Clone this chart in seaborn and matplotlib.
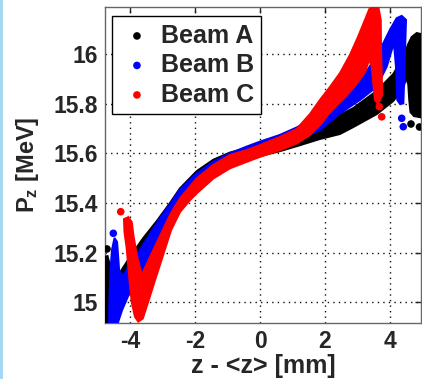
import matplotlib
matplotlib.use('Agg')
import matplotlib.pyplot as plt
import seaborn as sns
from matplotlib.patches import Rectangle

# ---- data ----
beam_names = ['Beam A', 'Beam B', 'Beam C']
beam_colors = ['#000000', '#0000ff', '#ff0000']

# outline of the dense particle band of each beam (z - <z> [mm], Pz [MeV])
beam_a_z = [-4.831, -4.692, -4.600, -4.554, -4.523, -4.360, -4.102, -3.898, -3.591, -3.178,
            -2.769, -2.462, -1.948, -1.437, -0.923, -0.409, 0.000, 0.615, 1.231, 1.846,
            2.871, 3.591, 4.102, 4.409, 4.563, 4.668, 4.822, 4.954, 5.077, 5.077,
            4.738, 4.631, 4.594, 4.563, 4.492, 4.409, 4.102, 3.591, 2.871, 2.462,
            1.846, 1.231, 0.615, 0.000, -0.409, -0.923, -1.437, -1.948, -2.462, -2.923,
            -3.385, -3.846, -4.154, -4.369, -4.554, -4.831]
beam_a_pz = [15.182, 15.186, 15.138, 15.070, 15.041, 15.110, 15.162, 15.202, 15.259, 15.327,
             15.400, 15.459, 15.528, 15.574, 15.603, 15.621, 15.633, 15.654, 15.678, 15.714,
             15.782, 15.851, 15.919, 15.988, 16.040, 16.068, 16.084, 16.080, 16.056, 15.742,
             15.750, 15.766, 15.815, 15.879, 15.903, 15.863, 15.811, 15.758, 15.706, 15.678,
             15.658, 15.633, 15.609, 15.589, 15.579, 15.562, 15.530, 15.480, 15.392, 15.299,
             15.202, 15.110, 15.049, 14.989, 14.921, 14.913]
beam_a_dots_z = [-4.708, 4.646, 4.908]
beam_a_dots_pz = [15.215, 15.718, 15.706]

beam_b_z = [-4.477, -4.554, -4.600, -4.631, -4.646, -4.431, -4.246, -4.062, -3.846, -3.538,
            -3.231, -2.923, -2.615, -2.308, -1.948, -1.437, -0.923, -0.409, 0.000, 0.615,
            1.231, 1.846, 2.462, 3.077, 3.591, 3.898, 4.052, 4.123, 4.185, 4.225,
            4.308, 4.409, 4.431, 4.462, 4.492, 4.360, 4.206, 4.000, 3.692, 3.178,
            2.462, 1.846, 1.538, 1.129, 0.615, 0.000, -0.409, -0.923, -1.437, -1.948,
            -2.462, -2.769, -3.077, -3.385, -3.692, -4.000, -4.215, -4.338, -4.369, -4.400]
beam_b_pz = [15.259, 15.211, 15.130, 15.009, 14.896, 14.896, 14.969, 15.025, 15.070, 15.138,
             15.211, 15.283, 15.356, 15.400, 15.452, 15.513, 15.553, 15.581, 15.601, 15.629,
             15.658, 15.694, 15.761, 15.815, 15.868, 15.949, 16.016, 16.043, 15.949, 15.815,
             15.799, 15.801, 15.882, 16.016, 16.137, 16.153, 16.144, 16.097, 16.016, 15.908,
             15.828, 15.766, 15.734, 15.704, 15.674, 15.647, 15.627, 15.600, 15.566, 15.519,
             15.455, 15.396, 15.339, 15.275, 15.211, 15.154, 15.106, 15.130, 15.190, 15.243]
beam_b_dots_z = [-4.514, 4.360, 4.409]
beam_b_dots_pz = [15.278, 15.741, 15.707]

beam_c_z = [-4.185, -4.169, -4.102, -4.022, -3.948, -3.846, -3.745, -3.609, -3.446, -3.231,
            -2.985, -2.738, -2.462, -2.154, -1.948, -1.437, -0.923, -0.409, 0.000, 0.615,
            1.129, 1.538, 1.846, 2.154, 2.615, 2.923, 3.231, 3.354, 3.437, 3.486,
            3.538, 3.631, 3.763, 3.745, 3.723, 3.714, 3.640, 3.538, 3.363, 3.231,
            3.015, 2.769, 2.462, 2.154, 1.846, 1.538, 1.129, 0.615, 0.000, -0.409,
            -0.923, -1.437, -1.948, -2.462, -2.769, -3.077, -3.385, -3.640, -3.794, -3.898,
            -3.948, -4.052]
beam_c_pz = [15.335, 15.283, 15.219, 15.098, 15.002, 14.942, 14.923, 14.935, 15.001, 15.090,
             15.190, 15.291, 15.364, 15.412, 15.439, 15.499, 15.540, 15.566, 15.586, 15.613,
             15.640, 15.674, 15.714, 15.766, 15.827, 15.871, 15.927, 15.976, 15.952, 15.882,
             15.815, 15.799, 15.835, 15.908, 16.016, 16.137, 16.189, 16.195, 16.180, 16.137,
             16.068, 15.996, 15.923, 15.867, 15.815, 15.758, 15.698, 15.666, 15.633, 15.613,
             15.593, 15.553, 15.499, 15.419, 15.352, 15.267, 15.182, 15.110, 15.190, 15.271,
             15.323, 15.343]
beam_c_dots_z = [-4.286, 3.671, 3.745]
beam_c_dots_pz = [15.365, 15.788, 15.747]

x_ticks = [-4, -2, 0, 2, 4]
x_tick_labels = ['-4', '-2', '0', '2', '4']
y_ticks = [15.0, 15.2, 15.4, 15.6, 15.8, 16.0]
y_tick_labels = ['15', '15.2', '15.4', '15.6', '15.8', '16']

# ---- style ----
sns.set_style('white')
plt.rcParams['font.family'] = ['Liberation Sans', 'DejaVu Sans']
plt.rcParams['font.weight'] = 'bold'
plt.rcParams['mathtext.fontset'] = 'custom'
plt.rcParams['mathtext.rm'] = 'Liberation Sans:bold'
plt.rcParams['mathtext.it'] = 'Liberation Sans:bold'
plt.rcParams['mathtext.bf'] = 'Liberation Sans:bold'

FS = 16.5
FS_LEG = 18
fig = plt.figure(figsize=(4.22, 3.79), dpi=100)
fig.patches.append(Rectangle((0, 0), 3 / 422, 1, transform=fig.transFigure,
                             facecolor='#a3d8f3', edgecolor='none', zorder=-5))
ax = fig.add_axes([105 / 422, 1 - 323 / 379, 316 / 422, 316 / 379])

outlines = [(beam_a_z, beam_a_pz), (beam_b_z, beam_b_pz), (beam_c_z, beam_c_pz)]
dots = [(beam_a_dots_z, beam_a_dots_pz), (beam_b_dots_z, beam_b_dots_pz),
        (beam_c_dots_z, beam_c_dots_pz)]

for i, (name, col) in enumerate(zip(beam_names, beam_colors)):
    oz, opz = outlines[i]
    ax.fill(oz, opz, facecolor=col, edgecolor=col, linewidth=1.5, zorder=3 + 2 * i)
    dz, dpz = dots[i]
    sns.scatterplot(x=dz, y=dpz, color=col, s=30, edgecolor='none', label=name,
                    ax=ax, zorder=4 + 2 * i)

ax.set_xlim(-4.77, 4.954)
ax.set_ylim(14.917, 16.189)
ax.set_xticks(x_ticks)
ax.set_xticklabels(x_tick_labels)
ax.set_yticks(y_ticks)
ax.set_yticklabels(y_tick_labels)

ax.set_axisbelow(True)
ax.grid(True, color='#111111', linestyle=(0, (1, 3)), linewidth=1.0)
for s in ax.spines.values():
    s.set_color('#666666')
    s.set_linewidth(1.0)
    s.set_visible(True)
ax.tick_params(direction='in', length=4, width=1, color='#222222',
               top=True, right=True, labelsize=FS, pad=5)
for lbl in ax.get_xticklabels() + ax.get_yticklabels():
    lbl.set_fontweight('bold')

ax.set_xlabel('z - <z> [mm]', fontsize=18, fontweight='bold', labelpad=1)
ax.set_ylabel(r'P$_{z}$ [MeV]', fontsize=17, fontweight='bold', labelpad=9)

leg = ax.legend(loc='upper left', bbox_to_anchor=(0.022, 0.9715), borderaxespad=0,
                frameon=True, fancybox=False, edgecolor='black', framealpha=1,
                prop={'size': FS_LEG, 'weight': 'bold'}, handlelength=1.4,
                handletextpad=0.25, labelspacing=0.22, borderpad=0.3, markerscale=1.0)
leg.get_frame().set_linewidth(1.0)
leg.set_zorder(20)

fig.savefig('out.png', dpi=100)
